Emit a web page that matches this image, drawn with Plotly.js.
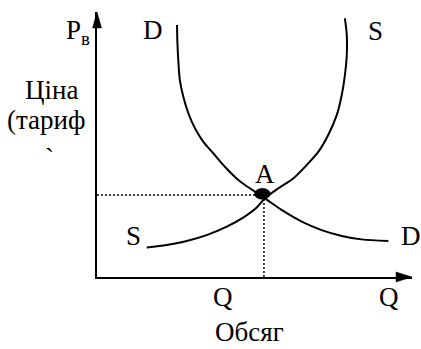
<!DOCTYPE html>
<html>
<head>
<meta charset="utf-8">
<script src="https://cdn.plot.ly/plotly-3.0.1.min.js"></script>
<style>
  html, body { margin: 0; padding: 0; background: #fff; }
  #chart { width: 421px; height: 349px; }
</style>
</head>
<body>
<div id="chart"></div>
<script>
// Крива попиту D (обсяг, ціна)
var demandQ = [2.54, 2.55, 2.58, 2.63, 2.74, 2.90, 3.11, 3.37, 3.69, 4.06, 4.43, 4.70, 5.33, 5.86, 6.50, 7.13, 7.77, 8.40, 9.25];
var demandP = [9.51, 8.94, 8.19, 7.43, 6.80, 6.18, 5.61, 5.11, 4.67, 4.16, 3.72, 3.47, 2.97, 2.53, 2.09, 1.77, 1.55, 1.42, 1.36];

// Крива пропозиції S
var supplyQ = [1.58, 2.21, 2.85, 3.48, 4.12, 4.64, 5.07, 5.33, 5.76, 6.23, 6.66, 7.03, 7.34, 7.61, 7.77, 7.87, 7.93, 7.93, 7.87];
var supplyP = [1.11, 1.21, 1.36, 1.58, 1.90, 2.24, 2.62, 2.97, 3.35, 3.72, 4.23, 4.73, 5.36, 6.11, 6.87, 7.62, 8.38, 9.13, 9.76];

// Точка рівноваги A
var eqQ = 5.30;
var eqP = 3.09;

var xMax = 10;
var yMax = 10;

// розмір області графіка в пікселях (для стрілок)
var plotW = 421 - 97 - 9;
var plotH = 349 - 12 - 72;
var arrowLen = 16;
var arrowHalf = 5;

var FONT = '"Liberation Serif", "Times New Roman", Times, serif';

var CHART = document.getElementById('chart');

var lineD = {
  x: demandQ, y: demandP,
  mode: 'lines', type: 'scatter',
  line: { color: '#000', width: 2, shape: 'spline', smoothing: 0.8 }
};

var lineS = {
  x: supplyQ, y: supplyP,
  mode: 'lines', type: 'scatter',
  line: { color: '#000', width: 2, shape: 'spline', smoothing: 0.8 }
};

// пунктир до осей
var dotH = {
  x: [0, eqQ], y: [eqP, eqP],
  mode: 'lines', type: 'scatter',
  line: { color: '#000', width: 1.5, dash: '2px,2px' }
};
var dotV = {
  x: [eqQ, eqQ], y: [0, eqP],
  mode: 'lines', type: 'scatter',
  line: { color: '#000', width: 1.5, dash: '2px,2px' }
};

function label(text, x, y, ref, yanchor) {
  return {
    text: text, x: x, y: y,
    xref: ref || 'x', yref: ref === 'paper' ? 'paper' : 'y',
    showarrow: false, xanchor: 'center', yanchor: yanchor || 'middle',
    font: { family: FONT, size: 27, color: '#000' }
  };
}

var ax = arrowLen / plotW, ahx = arrowHalf / plotH;   // стрілка осі X
var ay = arrowLen / plotH, ahy = (arrowHalf - 0.5) / plotW; // стрілка осі Y

var layout = {
  width: 421,
  height: 349,
  margin: { l: 97, r: 9, t: 12, b: 72, pad: 0 },
  paper_bgcolor: '#fff',
  plot_bgcolor: '#fff',
  showlegend: false,
  hovermode: false,
  font: { family: FONT, color: '#000' },
  xaxis: {
    range: [0, xMax], showgrid: false, zeroline: false,
    showticklabels: false, ticks: '',
    showline: true, linewidth: 2, linecolor: '#000'
  },
  yaxis: {
    range: [0, yMax], showgrid: false, zeroline: false,
    showticklabels: false, ticks: '',
    showline: true, linewidth: 2, linecolor: '#000'
  },
  shapes: [
    {
      type: 'path', xref: 'paper', yref: 'paper',
      path: 'M 1 0 L ' + (1 - ax) + ' ' + ahx + ' L ' + (1 - ax) + ' ' + (-ahx) + ' Z',
      fillcolor: '#000', line: { color: '#000', width: 0.5 }
    },
    {
      type: 'path', xref: 'paper', yref: 'paper',
      path: 'M 0 1 L ' + (-ahy) + ' ' + (1 - ay) + ' L ' + ahy + ' ' + (1 - ay) + ' Z',
      fillcolor: '#000', line: { color: '#000', width: 0.5 }
    },
    // точка A
    {
      type: 'circle', xref: 'x', yref: 'y',
      xsizemode: 'pixel', ysizemode: 'pixel', xanchor: eqQ - 0.05, yanchor: eqP + 0.05,
      x0: -8, x1: 8, y0: -5.5, y1: 5.5,
      fillcolor: '#000', line: { color: '#000', width: 0.5 }
    }
  ],
  annotations: [
    label('P<sub>в</sub>', -0.06, 0.925, 'paper'),
    label('Ціна', -0.146, 0.705, 'paper'),
    label('(тариф', -0.159, 0.592, 'paper'),
    label('`', -0.152, 0.449, 'paper'),
    label('Q', 0.40, -0.075, 'paper'),
    label('Q', 0.927, -0.075, 'paper'),
    label('Обсяг', 0.483, -0.272, 'paper', 'bottom'),
    label('D', 1.79, 9.32),
    label('S', 8.83, 9.28),
    label('A', 5.33, 3.89),
    label('S', 1.17, 1.55),
    label('D', 9.97, 1.55)
  ]
};

var config = { staticPlot: true, displayModeBar: false };

Plotly.newPlot(CHART, [dotH, dotV, lineD, lineS], layout, config);
</script>
</body>
</html>
